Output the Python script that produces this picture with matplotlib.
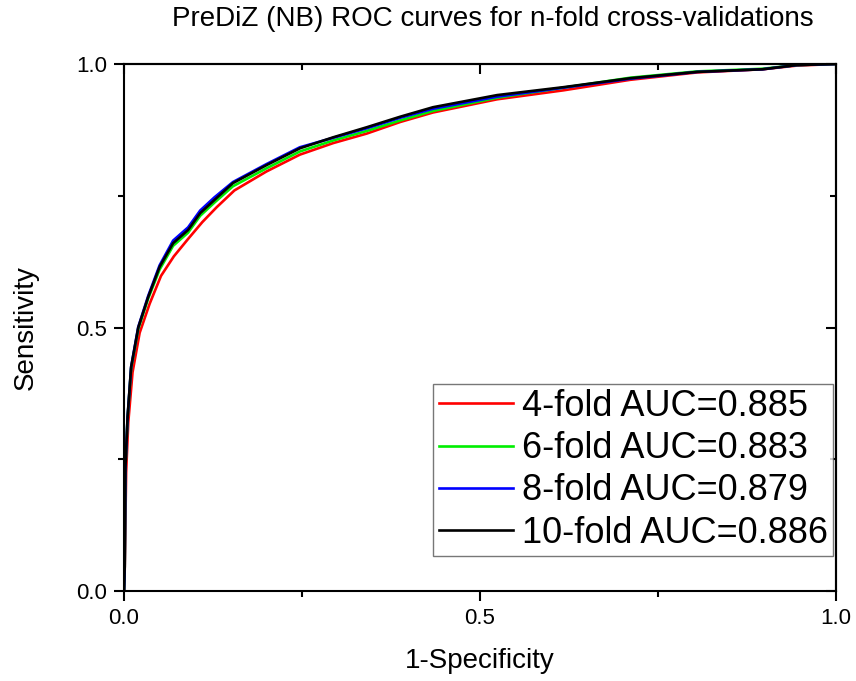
import matplotlib
matplotlib.use("Agg")
import matplotlib.pyplot as plt
from matplotlib.ticker import MultipleLocator, FormatStrFormatter

plt.rcParams['font.family'] = ['Liberation Sans', 'DejaVu Sans']

labels = ["4-fold AUC=0.885", "6-fold AUC=0.883", "8-fold AUC=0.879", "10-fold AUC=0.886"]
colors = ["#ff0000", "#00ee00", "#0000ff", "#000000"]

fpr_black = [0.0, 0.001, 0.002, 0.005, 0.010, 0.020, 0.034, 0.050, 0.069, 0.090, 0.107, 0.127,
             0.153, 0.200, 0.247, 0.294, 0.341, 0.388, 0.434, 0.524, 0.617, 0.711, 0.805, 0.897, 0.945, 1.0]
tpr_black = [0.0, 0.046, 0.235, 0.330, 0.425, 0.500, 0.558, 0.615, 0.660, 0.685, 0.717, 0.742,
             0.774, 0.808, 0.840, 0.861, 0.880, 0.900, 0.918, 0.941, 0.956, 0.973, 0.985, 0.990, 0.998, 1.0]

fpr_red = [0.0, 0.001, 0.003, 0.006, 0.012, 0.022, 0.036, 0.052, 0.070, 0.090, 0.110, 0.130,
           0.155, 0.200, 0.247, 0.294, 0.341, 0.388, 0.434, 0.524, 0.617, 0.711, 0.805, 0.897, 0.945, 1.0]
tpr_red = [0.0, 0.040, 0.225, 0.320, 0.415, 0.490, 0.545, 0.598, 0.635, 0.668, 0.700, 0.728,
           0.760, 0.796, 0.828, 0.850, 0.868, 0.890, 0.908, 0.933, 0.950, 0.970, 0.984, 0.990, 0.997, 1.0]

fpr_green = [0.0, 0.001, 0.002, 0.005, 0.010, 0.020, 0.034, 0.050, 0.069, 0.090, 0.107, 0.127,
             0.153, 0.200, 0.247, 0.294, 0.341, 0.388, 0.434, 0.524, 0.617, 0.711, 0.805, 0.897, 0.945, 1.0]
tpr_green = [0.0, 0.044, 0.232, 0.327, 0.422, 0.497, 0.555, 0.610, 0.655, 0.680, 0.712, 0.737,
             0.768, 0.802, 0.834, 0.855, 0.873, 0.893, 0.911, 0.936, 0.955, 0.974, 0.986, 0.991, 0.998, 1.0]

fpr_blue = [0.0, 0.001, 0.002, 0.005, 0.010, 0.020, 0.034, 0.050, 0.069, 0.090, 0.107, 0.127,
            0.153, 0.200, 0.247, 0.294, 0.341, 0.388, 0.434, 0.524, 0.617, 0.711, 0.805, 0.897, 0.945, 1.0]
tpr_blue = [0.0, 0.045, 0.233, 0.329, 0.425, 0.501, 0.560, 0.618, 0.665, 0.690, 0.722, 0.747,
            0.776, 0.810, 0.842, 0.860, 0.878, 0.898, 0.915, 0.938, 0.955, 0.972, 0.985, 0.990, 0.998, 1.0]

series = [(fpr_red, tpr_red), (fpr_green, tpr_green), (fpr_blue, tpr_blue), (fpr_black, tpr_black)]

fig = plt.figure(figsize=(8.56, 6.81), dpi=100)
ax = fig.add_axes([124/856, 1-591/681, (836-124)/856, (591-64)/681])

for (x, y), c, lab in zip(series, colors, labels):
    ax.plot(x, y, color=c, lw=1.9, label=lab)

ax.set_xlim(0, 1)
ax.set_ylim(0, 1)
for s in ax.spines.values():
    s.set_linewidth(1.5)

ax.xaxis.set_major_locator(MultipleLocator(0.5))
ax.xaxis.set_minor_locator(MultipleLocator(0.25))
ax.yaxis.set_major_locator(MultipleLocator(0.5))
ax.yaxis.set_minor_locator(MultipleLocator(0.25))
ax.xaxis.set_major_formatter(FormatStrFormatter('%.1f'))
ax.yaxis.set_major_formatter(FormatStrFormatter('%.1f'))
ax.tick_params(which='major', direction='out', length=7, width=1.5, labelsize=16, pad=5)
ax.tick_params(which='minor', direction='out', length=4, width=1.5)

secx = ax.secondary_xaxis('top')
secx.xaxis.set_major_locator(MultipleLocator(0.5))
secx.xaxis.set_minor_locator(MultipleLocator(0.25))
secx.tick_params(which='major', direction='in', length=7, width=1.5, labeltop=False)
secx.tick_params(which='minor', direction='in', length=4, width=1.5)
secx.spines['top'].set_linewidth(1.5)
secy = ax.secondary_yaxis('right')
secy.yaxis.set_major_locator(MultipleLocator(0.5))
secy.yaxis.set_minor_locator(MultipleLocator(0.25))
secy.tick_params(which='major', direction='in', length=7, width=1.5, labelright=False)
secy.tick_params(which='minor', direction='in', length=4, width=1.5)
secy.spines['right'].set_linewidth(1.5)

ax.set_xlabel("1-Specificity", fontsize=20, labelpad=14)
ax.set_ylabel("Sensitivity", fontsize=20, labelpad=27)
fig.text(493/856, 1-19/681, "PreDiZ (NB) ROC curves for n-fold cross-validations",
         ha='center', va='center', fontsize=20)

leg = ax.legend(loc='lower right', bbox_to_anchor=(833/856, 1-556/681), bbox_transform=fig.transFigure,
                fontsize=26, frameon=True, fancybox=False, handlelength=2.05, handletextpad=0.25,
                labelspacing=0.2, borderpad=0.15, borderaxespad=0.0, handleheight=0.7)
leg.get_frame().set_edgecolor('#555555')
leg.get_frame().set_linewidth(1.0)

fig.savefig("out.png", dpi=100)
